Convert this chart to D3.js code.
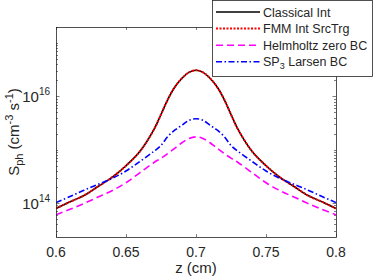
<!DOCTYPE html>
<html>
<head>
<meta charset="utf-8">
<script src="https://cdn.jsdelivr.net/npm/d3@7"></script>
<style>
  body { margin: 0; background: #fff; }
  text { font-family: "Liberation Sans", Arial, sans-serif; fill: #262626; }
</style>
</head>
<body>
<div class="plot"></div>
<script>
// z positions (cm)
const zVals = [0.6, 0.61, 0.62, 0.63, 0.64, 0.65, 0.66, 0.67, 0.675, 0.68, 0.685, 0.69, 0.695, 0.7,
               0.705, 0.71, 0.715, 0.72, 0.725, 0.73, 0.74, 0.75, 0.76, 0.77, 0.78, 0.79, 0.8];

// S_ph values (cm^-3 s^-1)
const classicalInt = [7.9e13, 1.05e14, 1.38e14, 2.04e14, 3.02e14, 5.0e14, 9.3e14, 2.4e15, 4.57e15, 8.9e15, 1.51e16, 2.19e16, 2.82e16, 3.09e16,
                      2.82e16, 2.19e16, 1.51e16, 8.9e15, 4.57e15, 2.4e15, 9.3e14, 5.0e14, 3.02e14, 2.04e14, 1.38e14, 1.05e14, 7.9e13];
const fmmInt = [7.9e13, 1.05e14, 1.38e14, 2.04e14, 3.02e14, 5.0e14, 9.3e14, 2.4e15, 4.57e15, 8.9e15, 1.51e16, 2.19e16, 2.82e16, 3.09e16,
                2.82e16, 2.19e16, 1.51e16, 8.9e15, 4.57e15, 2.4e15, 9.3e14, 5.0e14, 3.02e14, 2.04e14, 1.38e14, 1.05e14, 7.9e13];
const helmholtz = [6.0e13, 7.6e13, 9.8e13, 1.29e14, 1.70e14, 2.40e14, 3.72e14, 5.75e14, 6.92e14, 8.5e14, 1.07e15, 1.35e15, 1.62e15, 1.74e15,
                   1.62e15, 1.35e15, 1.07e15, 8.5e14, 6.92e14, 5.75e14, 3.72e14, 2.40e14, 1.70e14, 1.29e14, 9.8e13, 7.6e13, 6.0e13];
const sp3Larsen = [1.02e14, 1.32e14, 1.74e14, 2.24e14, 2.88e14, 3.98e14, 6.03e14, 9.33e14, 1.2e15, 1.78e15, 2.34e15, 2.88e15, 3.55e15, 3.8e15,
                   3.55e15, 2.88e15, 2.34e15, 1.78e15, 1.2e15, 9.33e14, 6.03e14, 3.98e14, 2.88e14, 2.24e14, 1.74e14, 1.32e14, 1.02e14];

const xTicks = [0.6, 0.65, 0.7, 0.75, 0.8];
const xTickLabels = ["0.6", "0.65", "0.7", "0.75", "0.8"];
const yTicks = [1e14, 1e16];
const yTickExp = ["14", "16"];
const legendNames = ["Classical Int", "FMM Int SrcTrg", "Helmholtz zero BC", "SP3 Larsen BC"];

const W = 374, H = 280;
const margin = {top: 27, right: 38, bottom: 43, left: 56};
const w = W - margin.left - margin.right;
const h = H - margin.top - margin.bottom;

const svg = d3.select(".plot")
    .append("svg")
        .attr("width", W)
        .attr("height", H);

const g = svg.append("g")
    .attr("transform", "translate(" + margin.left + "," + margin.top + ")");

const x = d3.scaleLinear().domain([0.6, 0.8]).range([0, w]);
const y = d3.scaleLog().domain([2.3e13, 2e17]).range([h, 0]);

const axisColor = "#262626";

// minor + major ticks on left/right
const minor = [];
for (let d = 13; d <= 17; d++) {
    for (let k = 1; k <= 9; k++) {
        const v = k * Math.pow(10, d);
        if (v >= y.domain()[0] && v <= y.domain()[1]) minor.push(v);
    }
}
g.selectAll(".ytick")
    .data(minor)
    .enter()
    .append("path")
    .attr("d", d => {
        const len = yTicks.includes(d) ? 3.5 : 2;
        const yy = Math.round(y(d)) + 0.5;
        return "M0," + yy + "h" + len + "M" + w + "," + yy + "h" + (-len);
    })
    .attr("stroke", axisColor)
    .attr("stroke-width", 0.6);

// x ticks on top and bottom
g.selectAll(".xtick")
    .data(xTicks)
    .enter()
    .append("path")
    .attr("d", d => {
        const xx = Math.round(x(d)) + 0.5;
        return "M" + xx + "," + h + "v-3M" + xx + ",0v3";
    })
    .attr("stroke", axisColor)
    .attr("stroke-width", 0.6);

// curves
const line = d3.line()
    .x((d, i) => x(zVals[i]))
    .y(d => y(d))
    .curve(d3.curveCatmullRom.alpha(0.5));

const series = [
    {vals: classicalInt, color: "#000000", dash: null, width: 1.6},
    {vals: fmmInt, color: "#ff0000", dash: "2,1.5", width: 2},
    {vals: helmholtz, color: "#ff00ff", dash: "7,4", width: 1.6},
    {vals: sp3Larsen, color: "#0000ff", dash: "6,2.5,1.5,2.5", width: 1.6}
];

svg.append("clipPath").attr("id", "clip")
    .append("rect").attr("width", w).attr("height", h);

g.append("g")
    .attr("clip-path", "url(#clip)")
    .selectAll("path")
    .data(series)
    .enter()
    .append("path")
    .attr("d", d => line(d.vals))
    .attr("fill", "none")
    .attr("stroke", d => d.color)
    .attr("stroke-width", d => d.width)
    .attr("stroke-dasharray", d => d.dash);

// frame
g.append("rect")
    .attr("x", 0.5).attr("y", 0.5)
    .attr("width", w).attr("height", h)
    .attr("fill", "none")
    .attr("stroke", axisColor)
    .attr("stroke-width", 0.8);

// x tick labels
g.selectAll(".xlab")
    .data(xTicks)
    .enter()
    .append("text")
    .attr("x", d => x(d))
    .attr("y", h + 20)
    .attr("text-anchor", "middle")
    .style("font-size", "14px")
    .text((d, i) => xTickLabels[i]);

// y tick labels
const yl = g.selectAll(".ylab")
    .data(yTicks)
    .enter()
    .append("text")
    .attr("x", -6)
    .attr("y", d => y(d) + 6)
    .attr("text-anchor", "end")
    .style("font-size", "15px");
yl.append("tspan").text("10");
yl.append("tspan")
    .attr("dy", -7)
    .style("font-size", "10px")
    .text((d, i) => yTickExp[i]);

// x label
g.append("text")
    .attr("x", w / 2)
    .attr("y", h + 36)
    .attr("text-anchor", "middle")
    .style("font-size", "15px")
    .text("z (cm)");

// y label
const ylab = svg.append("text")
    .attr("transform", "translate(19," + (margin.top + h / 2) + ") rotate(-90)")
    .attr("text-anchor", "middle")
    .style("font-size", "15px");
ylab.append("tspan").text("S");
ylab.append("tspan").attr("dy", 4).style("font-size", "11px").text("ph");
ylab.append("tspan").attr("dy", -4).text(" (cm");
ylab.append("tspan").attr("dy", -6).style("font-size", "11px").text("-3");
ylab.append("tspan").attr("dy", 6).text(" s");
ylab.append("tspan").attr("dy", -6).style("font-size", "11px").text("-1");
ylab.append("tspan").attr("dy", 6).text(")");

// legend
const lg = svg.append("g").attr("transform", "translate(212,0)");
lg.append("rect")
    .attr("x", 0.5).attr("y", 0.5)
    .attr("width", 160).attr("height", 76)
    .attr("fill", "#fff")
    .attr("stroke", axisColor)
    .attr("stroke-width", 0.8);

const items = lg.selectAll(".item")
    .data(series)
    .enter()
    .append("g")
    .attr("transform", (d, i) => "translate(0," + (12 + i * 16.6) + ")");

items.append("path")
    .attr("d", "M4,0H48")
    .attr("stroke", d => d.color)
    .attr("stroke-width", d => d.width)
    .attr("stroke-dasharray", d => d.dash)
    .attr("fill", "none");

items.append("text")
    .attr("x", 51)
    .attr("y", 4.5)
    .style("font-size", "12.5px")
    .each(function(d, i) {
        const t = d3.select(this);
        const name = legendNames[i];
        if (name.startsWith("SP3")) {
            t.append("tspan").text("SP");
            t.append("tspan").attr("dy", 3).style("font-size", "9px").text("3");
            t.append("tspan").attr("dy", -3).text(" Larsen BC");
        } else {
            t.text(name);
        }
    });
</script>
</body>
</html>
